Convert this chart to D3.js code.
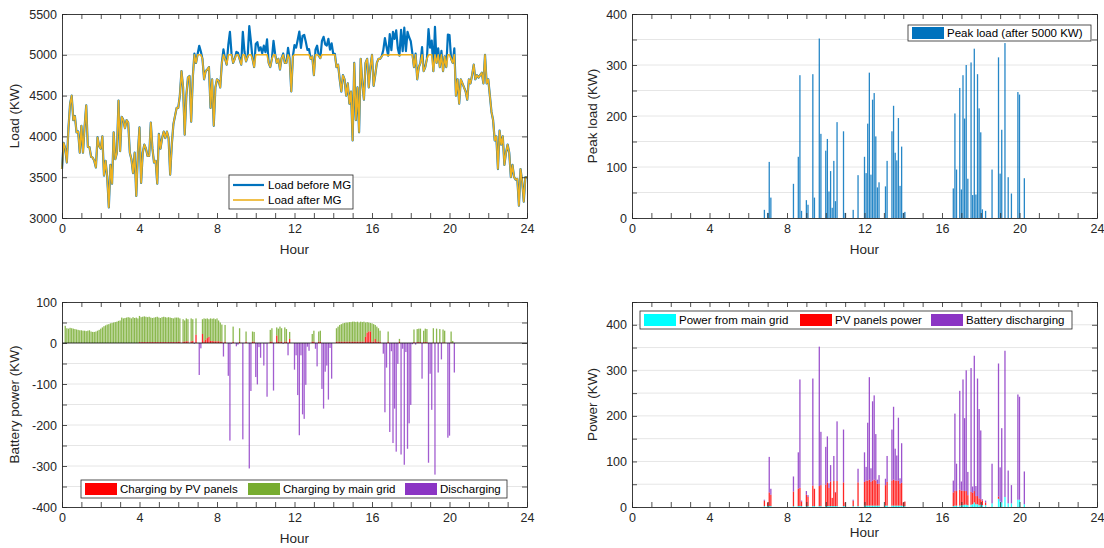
<!DOCTYPE html>
<html>
<head>
<meta charset="utf-8">
<script src="https://cdn.jsdelivr.net/npm/d3@7"></script>
<style>
body { margin: 0; background: #fff; }
</style>
</head>
<body>
<svg id="fig" width="1104" height="548"></svg>
<script>
// 5-minute samples over the day (slot i -> hour i/12), one row per hour
const loadBefore = [
  3600,3920,3850,3680,4100,4400,4500,4200,4250,4050,4060,3800,
  4130,3800,4120,4380,3870,3870,3750,3740,3700,3620,3990,3880,
  3850,4000,3520,3700,3500,3130,3650,3420,4050,3720,3800,4440,
  3820,4240,4200,4100,4200,4170,3800,3720,3550,3800,3270,3800,
  4110,3430,3800,3900,3850,3760,3760,4170,3850,3680,3700,3420,
  4030,3850,3980,4060,3980,4060,3980,3530,3900,4150,4250,4350,
  4350,4500,4800,4600,4020,4500,4720,4740,4180,4720,5016,4900,
  5010,5110,5040,4950,4700,4800,4820,4850,4350,4700,4130,4600,
  4700,4680,4600,4900,5067,4950,4880,5120,5280,5014,4900,4950,
  5035,5026,4950,4880,5282,5040,4920,4980,5352,5165,4950,4850,
  5132,5155,5052,5092,5020,5112,5033,5188,4900,4850,4950,5170,
  5010,4900,4950,4820,4960,5016,4900,4900,5084,4950,4550,4980,
  5120,5088,5185,5285,5085,5232,5245,5160,5060,5070,4950,4980,
  4750,5062,5112,4990,4960,5170,5220,5128,5113,5196,5063,5140,
  5010,5012,4850,4880,4700,4550,4750,4700,4500,4650,4400,4550,
  3950,4900,4200,4600,4050,4950,4650,4450,4900,4950,4600,4850,
  5000,4620,4750,4900,4950,4950,4980,5058,5205,5095,4990,5255,
  5056,5280,5195,5300,5077,4990,5305,5045,5332,5046,5282,5215,
  5168,5017,4850,5014,4700,4850,4900,5095,4800,4850,4950,5315,
  5087,5173,4800,5343,4900,5080,4850,5048,4800,4980,4850,5247,
  5242,4950,4900,5078,4500,4700,4400,4700,4650,4600,4550,4450,
  4700,4650,4750,4880,4700,4750,4720,4750,4780,4650,5000,4650,
  4700,4500,4300,4200,3950,4000,3600,4070,3900,4000,3650,3800,
  3900,3800,3500,3650,3500,3470,3480,3150,3600,3450,3200,3500,
  3500
];

// battery charging from the main grid (kW), per 5-minute slot (stacked on PV)
const chargeGrid = [
  0,0,42,36,35,37,36,35,34,33,32,31,
  31,30,30,29,30,31,28,27,27,28,30,32,
  35,38,41,43,45,46,48,49,50,51,52,54,
  55,62,60,61,62,63,62,60,63,61,62,60,
  64,61,62,63,62,61,62,60,59,60,61,62,
  60,59,61,62,61,60,61,60,59,58,60,60,
  59,57,0,55,52,56,54,0,56,53,0,40,
  0,0,0,36,56,51,48,43,55,54,56,54,
  56,51,47,42,0,41,0,0,0,0,37,0,
  0,0,33,0,0,0,25,0,0,0,25,24,
  0,0,0,0,0,0,0,0,0,29,33,0,
  0,20,32,37,33,0,35,31,0,17,0,0,
  0,0,0,0,0,0,0,0,0,0,0,19,
  27,0,0,25,27,0,0,0,0,0,0,0,
  0,0,33,37,41,43,45,46,47,47,48,48,
  49,49,48,49,47,49,48,49,35,26,22,21,
  45,43,34,37,33,27,0,0,0,0,25,0,
  0,0,0,0,0,7,0,0,0,0,0,0,
  0,0,31,0,32,33,33,0,28,33,32,0,
  0,0,35,0,34,0,33,0,32,29,0,0,
  0,27,5,0,0,0,0,0,0,0,0,0,
  0,0,0,0,0,0,0,0,0,0,0,0,
  0,0,0,0,0,0,0,0,0,0,0,0,
  0,0,0,0,0,0,0,0,0,0,0,0
];

// battery charging from the PV panels (kW), per 5-minute slot
const chargePV = [
  0,0,0,0,0,0,0,0,0,0,0,0,
  0,0,0,0,0,0,0,0,0,0,0,0,
  0,0,0,0,0,0,0,0,0,0,0,0,
  0,0,0,0,0,0,0,0,0,0,0,0,
  2,2,2,2,2,2,2,2,2,2,2,2,
  2,2,2,2,2,2,2,2,2,2,2,2,
  3,3,0,3,3,4,4,0,4,5,0,20,
  0,0,0,22,4,8,12,15,5,5,4,4,
  4,4,3,3,0,3,0,0,0,0,3,0,
  0,0,3,0,0,0,3,0,0,0,3,3,
  0,0,0,0,0,0,0,0,0,3,3,0,
  0,18,3,3,3,0,3,3,0,10,0,0,
  0,0,0,0,0,0,0,0,0,0,0,3,
  3,0,0,3,3,0,0,0,0,0,0,0,
  0,0,3,3,3,3,3,3,3,3,3,3,
  3,3,3,3,3,3,3,3,15,25,28,28,
  3,3,10,3,3,3,0,0,0,0,3,0,
  0,0,0,0,0,3,0,0,0,0,0,0,
  0,0,2,0,2,2,2,0,2,2,2,0,
  0,0,1,0,1,0,1,0,1,1,0,0,
  0,1,0,0,0,0,0,0,0,0,0,0,
  0,0,0,0,0,0,0,0,0,0,0,0,
  0,0,0,0,0,0,0,0,0,0,0,0,
  0,0,0,0,0,0,0,0,0,0,0,0
];

// slots where the load is above the 5000 kW limit, and how that peak is covered
const peakSlots = [82,84,85,86,100,103,104,105,108,109,112,113,116,117,120,121,122,123,124,125,126,127,
  131,132,137,140,144,145,146,147,148,149,150,151,152,153,157,158,161,162,163,164,165,166,167,168,169,
  199,200,201,203,204,205,206,207,208,210,211,212,213,214,215,216,217,219,223,227,228,229,231,233,235,239,240,243];
const peakPV = [12,8,30,25,32,38,40,10,25,20,45,38,44,46,47,52,40,54,18,55,30,55,
  52,8,12,52,52,55,55,57,52,55,57,55,48,48,45,52,55,57,55,55,55,48,50,8,10,
  30,33,32,35,32,32,30,30,22,28,25,25,18,18,15,12,10,6,0,5,0,0,0,0,0,0,0,0];
const peakGrid = [2,2,2,2,2,2,2,2,2,2,2,2,2,2,2,2,2,2,2,2,2,2,
  2,2,2,2,3,3,3,3,3,3,3,3,3,3,3,3,3,3,3,3,3,3,3,2,2,
  2,3,3,3,4,4,5,5,4,5,6,10,6,6,4,5,4,4,8,18,12,10,22,8,8,16,16,6];

const loadLimit = 5000;
const hourTicks = d3.range(0, 25);
const hourLabels = [0, 4, 8, 12, 16, 20, 24];

const FONT = "'Liberation Sans', Arial, Helvetica, sans-serif";
const axisColor = "#262626";
const gridColor = "#e6e6e6";
const colors = {
  before: "#0072BD", after: "#EDB120", peak: "#0072BD",
  pv: "#FF0000", grid: "#77AC30", discharge: "#8B35C4", mainGrid: "#00FFFF"
};

const svg = d3.select("#fig");
const nSlots = 288;
const slotHour = i => i / 12;

// derived series
const peakLoad = loadBefore.slice(0, nSlots).map(v => Math.max(v - loadLimit, 0));
const peakRows = peakSlots.map((s, k) => {
  const total = peakLoad[s];
  return { slot: s, grid: peakGrid[k], pv: peakPV[k], battery: Math.max(total - peakPV[k] - peakGrid[k], 0) };
});

function makePanel(p) {
  const g = svg.append("g");
  const x = d3.scaleLinear().domain([0, 24]).range([p.left, p.right]);
  const y = d3.scaleLinear().domain(p.yDomain).range([p.bottom, p.top]);
  g.append("g").selectAll("line").data(p.grid).join("line")
    .attr("x1", p.left).attr("x2", p.right)
    .attr("y1", d => y(d)).attr("y2", d => y(d))
    .attr("stroke", gridColor).attr("stroke-width", 1);
  const plot = g.append("g");
  const axes = g.append("g");
  const yFmt = d => p.yLabels.indexOf(d) >= 0 ? d : "";
  axes.append("g").attr("transform", `translate(0,${p.bottom})`)
    .call(d3.axisBottom(x).tickValues(hourTicks).tickSize(-5).tickSizeOuter(0).tickPadding(6)
      .tickFormat(d => hourLabels.indexOf(d) >= 0 ? d : ""));
  axes.append("g").attr("transform", `translate(0,${p.top})`)
    .call(d3.axisTop(x).tickValues(hourTicks).tickSize(-5).tickSizeOuter(0).tickFormat(""));
  axes.append("g").attr("transform", `translate(${p.left},0)`)
    .call(d3.axisLeft(y).tickValues(p.yTicks).tickSize(-5).tickSizeOuter(0).tickPadding(5).tickFormat(yFmt));
  axes.append("g").attr("transform", `translate(${p.right},0)`)
    .call(d3.axisRight(y).tickValues(p.yTicks).tickSize(-5).tickSizeOuter(0).tickFormat(""));
  axes.selectAll(":scope > g").attr("font-family", FONT).attr("font-size", 12.5);
  axes.selectAll("path.domain").attr("stroke", axisColor).attr("stroke-width", 0.9);
  axes.selectAll(".tick line").attr("stroke", axisColor).attr("stroke-width", 0.8);
  axes.selectAll("text").attr("fill", axisColor);

  g.append("text").attr("x", (p.left + p.right) / 2).attr("y", p.xLabelY)
    .attr("text-anchor", "middle").attr("font-family", FONT).attr("font-size", 13.5)
    .attr("fill", axisColor).text("Hour");
  g.append("text")
    .attr("transform", `translate(${p.yLabelX},${(p.top + p.bottom) / 2}) rotate(-90)`)
    .attr("text-anchor", "middle").attr("font-family", FONT).attr("font-size", 13.5)
    .attr("fill", axisColor).text(p.yLabel);
  return { g, x, y, plot, axes };
}

function drawLegend(g, box, items) {
  g.append("rect").attr("x", box.x).attr("y", box.y).attr("width", box.w).attr("height", box.h)
    .attr("fill", "#fff").attr("stroke", axisColor).attr("stroke-width", 0.8);
  items.forEach(it => {
    if (it.kind === "line") {
      g.append("line").attr("x1", it.x).attr("x2", it.x + 31).attr("y1", it.y).attr("y2", it.y)
        .attr("stroke", it.color).attr("stroke-width", it.width);
    } else {
      g.append("rect").attr("x", it.x).attr("y", it.y - 6).attr("width", 32).attr("height", 12)
        .attr("fill", it.color);
    }
    g.append("text").attr("x", it.x + 35).attr("y", it.y).attr("dy", "0.35em")
      .attr("font-family", FONT).attr("font-size", 11.5).attr("fill", "#000").text(it.text);
  });
}

const barW = 465 / nSlots * 0.8;

// ---- top left: load before/after MG
const tl = makePanel({
  left: 62, right: 527, top: 14, bottom: 218,
  yDomain: [3000, 5500], yTicks: d3.range(3000, 5501, 500), yLabels: d3.range(3000, 5501, 500),
  grid: [3500, 4000, 4500, 5000], yLabel: "Load (KW)", yLabelX: 19, xLabelY: 254
});
const loadLine = d3.line().x((d, i) => tl.x(slotHour(i))).y(d => tl.y(d));
tl.plot.append("path").datum(loadBefore).attr("d", loadLine)
  .attr("fill", "none").attr("stroke", colors.before).attr("stroke-width", 2.2).attr("stroke-linejoin", "round");
tl.plot.append("path").datum(loadBefore.map(v => Math.min(v, loadLimit))).attr("d", loadLine)
  .attr("fill", "none").attr("stroke", colors.after).attr("stroke-width", 1.6).attr("stroke-linejoin", "round");
drawLegend(tl.g, { x: 229, y: 175, w: 124, h: 34 }, [
  { kind: "line", x: 233, y: 185, color: colors.before, width: 2.2, text: "Load before MG" },
  { kind: "line", x: 233, y: 200, color: colors.after, width: 1.6, text: "Load after MG" }
]);

// ---- top right: peak load above the limit
const tr = makePanel({
  left: 632, right: 1097, top: 14, bottom: 218,
  yDomain: [0, 400], yTicks: d3.range(0, 401, 50), yLabels: d3.range(0, 401, 100),
  grid: d3.range(50, 400, 50), yLabel: "Peak load (KW)", yLabelX: 597, xLabelY: 254
});
tr.plot.selectAll("rect").data(peakLoad.map((v, i) => ({ i, v })).filter(d => d.v > 0)).join("rect")
  .attr("x", d => tr.x(slotHour(d.i)) - barW / 2).attr("width", barW)
  .attr("y", d => tr.y(d.v)).attr("height", d => tr.y(0) - tr.y(d.v))
  .attr("fill", colors.peak).attr("fill-opacity", 0.85);
drawLegend(tr.g, { x: 908, y: 25, w: 183, h: 16 }, [
  { kind: "patch", x: 912, y: 33, color: colors.peak, text: "Peak load (after 5000 KW)" }
]);

// ---- bottom left: battery power
const bl = makePanel({
  left: 62, right: 527, top: 302, bottom: 507,
  yDomain: [-400, 100], yTicks: d3.range(-400, 101, 50), yLabels: d3.range(-400, 101, 100),
  grid: d3.range(-350, 100, 50).filter(d => d !== 0), yLabel: "Battery power (KW)", yLabelX: 19, xLabelY: 543
});
const chargeRows = d3.range(nSlots).map(i => ({ i, pv: chargePV[i], grid: chargeGrid[i] }))
  .filter(d => d.pv + d.grid > 0);
bl.plot.append("g").selectAll("rect").data(chargeRows).join("rect")
  .attr("x", d => bl.x(slotHour(d.i)) - barW / 2).attr("width", barW)
  .attr("y", d => bl.y(d.pv + d.grid)).attr("height", d => bl.y(d.pv) - bl.y(d.pv + d.grid))
  .attr("fill", colors.grid).attr("fill-opacity", 0.85);
bl.plot.append("g").selectAll("rect").data(chargeRows.filter(d => d.pv > 0)).join("rect")
  .attr("x", d => bl.x(slotHour(d.i)) - barW / 2).attr("width", barW)
  .attr("y", d => bl.y(d.pv)).attr("height", d => bl.y(0) - bl.y(d.pv))
  .attr("fill", colors.pv).attr("fill-opacity", 0.85);
bl.plot.append("g").selectAll("rect").data(peakRows.filter(d => d.battery > 0)).join("rect")
  .attr("x", d => bl.x(slotHour(d.slot)) - barW / 2).attr("width", barW)
  .attr("y", bl.y(0)).attr("height", d => bl.y(-d.battery) - bl.y(0))
  .attr("fill", colors.discharge).attr("fill-opacity", 0.8);
bl.plot.append("line").attr("x1", bl.x(0)).attr("x2", bl.x(24))
  .attr("y1", bl.y(0)).attr("y2", bl.y(0)).attr("stroke", "#000").attr("stroke-width", 0.8);
drawLegend(bl.g, { x: 81, y: 480, w: 426, h: 18 }, [
  { kind: "patch", x: 85, y: 489, color: colors.pv, text: "Charging by PV panels" },
  { kind: "patch", x: 248, y: 489, color: colors.grid, text: "Charging by main grid" },
  { kind: "patch", x: 405, y: 489, color: colors.discharge, text: "Discharging" }
]);

// ---- bottom right: how the peak is supplied
const br = makePanel({
  left: 632, right: 1097, top: 302, bottom: 507,
  yDomain: [0, 450], yTicks: d3.range(0, 451, 50), yLabels: d3.range(0, 401, 100),
  grid: d3.range(50, 450, 50), yLabel: "Power (KW)", yLabelX: 597, xLabelY: 537
});
const stackKeys = ["grid", "pv", "battery"];
const stackColors = { grid: colors.mainGrid, pv: colors.pv, battery: colors.discharge };
const stacked = d3.stack().keys(stackKeys)(peakRows);
br.plot.selectAll("g").data(stacked).join("g")
  .attr("fill", d => stackColors[d.key]).attr("fill-opacity", 0.85)
  .selectAll("rect").data(d => d).join("rect")
  .attr("x", d => br.x(slotHour(d.data.slot)) - barW / 2).attr("width", barW)
  .attr("y", d => br.y(d[1])).attr("height", d => br.y(d[0]) - br.y(d[1]));
drawLegend(br.g, { x: 640, y: 311, w: 432, h: 18 }, [
  { kind: "patch", x: 644, y: 320, color: colors.mainGrid, text: "Power from main grid" },
  { kind: "patch", x: 800, y: 320, color: colors.pv, text: "PV panels power" },
  { kind: "patch", x: 931, y: 320, color: colors.discharge, text: "Battery discharging" }
]);
</script>
</body>
</html>
